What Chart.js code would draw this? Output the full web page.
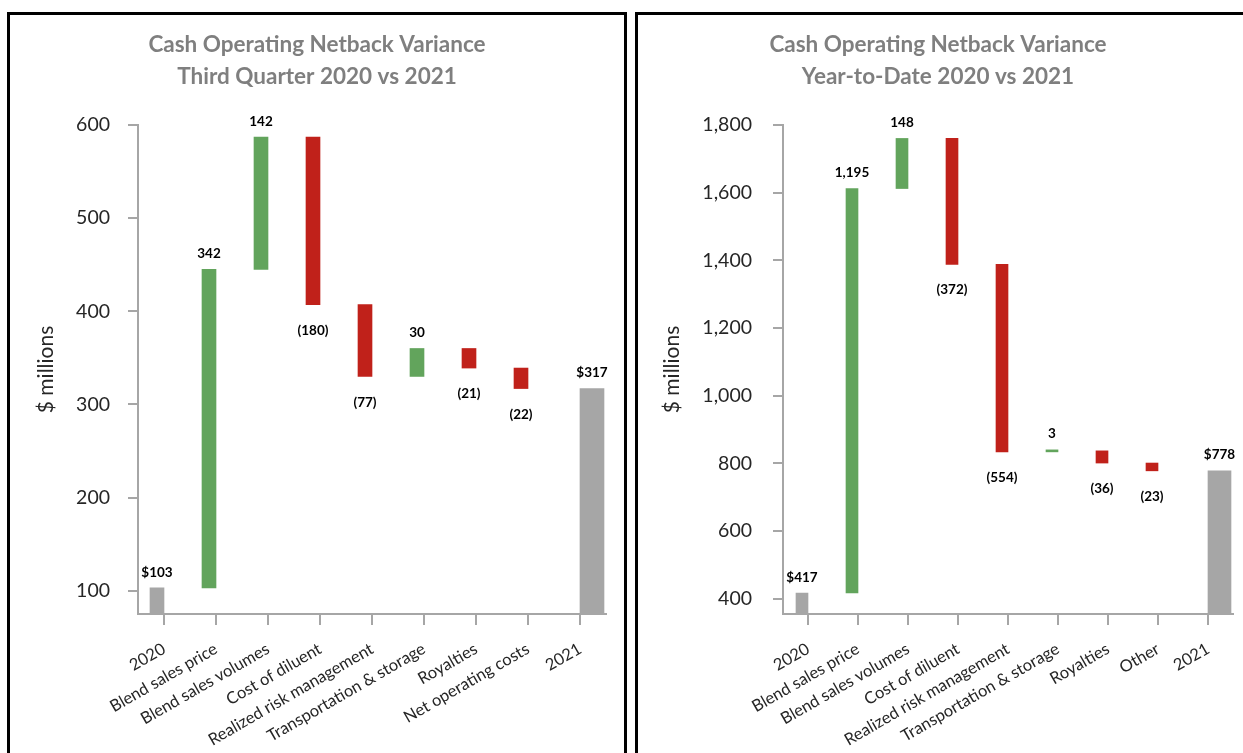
<!DOCTYPE html>
<html>
<head>
<meta charset="utf-8">
<script src="https://cdn.jsdelivr.net/npm/chart.js@4"></script>
<style>
  body { margin: 0; background: #fff; width: 1243px; height: 753px; overflow: hidden; position: relative; }
  .panel { position: absolute; top: 12px; height: 760px; border: 3px solid #000; box-sizing: border-box; }
  #p1 { left: 7px; width: 620px; }
  #p2 { left: 635px; width: 640px; }
  .panel canvas { position: absolute; left: 0; top: 0; }
</style>
</head>
<body>
<div class="panel" id="p1"><canvas id="q3" width="614" height="745"></canvas></div>
<div class="panel" id="p2"><canvas id="ytd" width="600" height="745"></canvas></div>

<script>
// third quarter
const q3Categories = ["2020", "Blend sales price", "Blend sales volumes", "Cost of diluent", "Realized risk management", "Transportation & storage", "Royalties", "Net operating costs", "2021"];
const q3Start = 103;
const q3Changes = [342, 142, -180, -77, 30, -21, -22];
const q3End = 317;
const q3Ticks = [100, 200, 300, 400, 500, 600];

// year to date
const ytdCategories = ["2020", "Blend sales price", "Blend sales volumes", "Cost of diluent", "Realized risk management", "Transportation & storage", "Royalties", "Other", "2021"];
const ytdStart = 417;
const ytdChanges = [1195, 148, -372, -554, 3, -36, -23];
const ytdEnd = 778;
const ytdTicks = [400, 600, 800, 1000, 1200, 1400, 1600, 1800];

const GREEN = "#62a45c", RED = "#c0211a", GRAY = "#a6a6a6", INK = "#262626";

const fmt = (v, total) => {
    const s = Math.abs(v).toLocaleString("en-US");
    if (total) return "$" + s;
    return v < 0 ? "(" + s + ")" : s;
};

// value labels above rises / totals, below drops
const barLabels = {
    id: "barLabels",
    afterDatasetsDraw(chart) {
        const ctx = chart.ctx;
        ctx.save();
        ctx.font = "bold 13.5px Lato";
        ctx.fillStyle = "#000";
        ctx.textAlign = "center";
        chart.data.datasets.forEach((ds, di) => {
            chart.getDatasetMeta(di).data.forEach((bar, i) => {
                const txt = ds.valueLabels[i];
                if (!txt) return;
                const top = Math.min(bar.y, bar.base), bottom = Math.max(bar.y, bar.base);
                if (ds.falls[i]) {
                    ctx.textBaseline = "top";
                    ctx.fillText(txt, bar.x, bottom + 19);
                } else {
                    ctx.textBaseline = "bottom";
                    ctx.fillText(txt, bar.x, top - 9);
                }
            });
        });
        ctx.restore();
    }
};

function waterfall(id, title, cats, start, changes, end, ticks, yMin, yMax, o) {
    const steps = [[0, start]], colors = [GRAY], labels = [fmt(start, true)], falls = [false];
    let run = start;
    changes.forEach(c => {
        steps.push([run, run + c]);
        colors.push(c < 0 ? RED : GREEN);
        labels.push(fmt(c, false));
        falls.push(c < 0);
        run += c;
    });
    steps.push(null); colors.push(GRAY); labels.push(null); falls.push(false);
    const totals = cats.map((c, i) => i === cats.length - 1 ? [0, end] : null);
    const totalLabels = cats.map((c, i) => i === cats.length - 1 ? fmt(end, true) : null);

    new Chart(document.getElementById(id), {
        type: "bar",
        data: {
            labels: cats,
            datasets: [
                { data: steps, backgroundColor: colors, barThickness: o.bar, minBarLength: 2, valueLabels: labels, falls },
                { data: totals, backgroundColor: GRAY, barThickness: o.totalBar, valueLabels: totalLabels, falls: cats.map(() => false) }
            ]
        },
        options: {
            responsive: false,
            animation: false,
            layout: { padding: 0 },
            plugins: {
                legend: { display: false },
                tooltip: { enabled: false },
                title: {
                    display: true, text: title, color: "#7f7f7f",
                    font: { family: "Lato", size: 22.5, weight: "bold", lineHeight: 1.42 },
                    padding: { top: 14, bottom: 32 }
                }
            },
            scales: {
                x: {
                    offset: true,
                    afterFit: s => { s.height = 146; },
                    border: { color: GRAY, width: 2 },
                    grid: { offset: false, drawOnChartArea: false, tickLength: 11, color: GRAY, lineWidth: 2 },
                    ticks: { font: { family: "Lato", size: 16.5 }, color: INK, minRotation: 30, maxRotation: 30, autoSkip: false, padding: 14 }
                },
                y: {
                    min: yMin, max: yMax,
                    afterBuildTicks: s => { s.ticks = ticks.map(v => ({ value: v })); },
                    afterFit: s => { s.width = o.yWidth; },
                    border: { color: GRAY, width: 2 },
                    grid: { drawOnChartArea: false, tickLength: 10, color: GRAY, lineWidth: 2 },
                    ticks: { font: { family: "Lato", size: 19.5 }, color: INK, padding: o.tickPad, callback: v => v.toLocaleString("en-US") },
                    title: { display: true, text: "$ millions", color: INK, font: { family: "Lato", size: 21, lineHeight: 1.2 }, padding: { top: o.titlePad, bottom: 0 } }
                },
                // empty right box so the chart area stops where the reference does
                yR: {
                    position: "right", display: true,
                    afterFit: s => { s.width = o.rightGap; },
                    grid: { display: false }, border: { display: false }, ticks: { display: false }
                }
            }
        },
        plugins: [barLabels]
    });
}

waterfall("q3", ["Cash Operating Netback Variance", "Third Quarter 2020 vs 2021"],
    q3Categories, q3Start, q3Changes, q3End, q3Ticks, 75, 600,
    { bar: 14, totalBar: 24, yWidth: 128, rightGap: 18, tickPad: 18, titlePad: 24 });

waterfall("ytd", ["Cash Operating Netback Variance", "Year-to-Date 2020 vs 2021"],
    ytdCategories, ytdStart, ytdChanges, ytdEnd, ytdTicks, 355, 1800,
    { bar: 12, totalBar: 23, yWidth: 145, rightGap: 5, tickPad: 21, titlePad: 22 });
</script>
</body>
</html>
